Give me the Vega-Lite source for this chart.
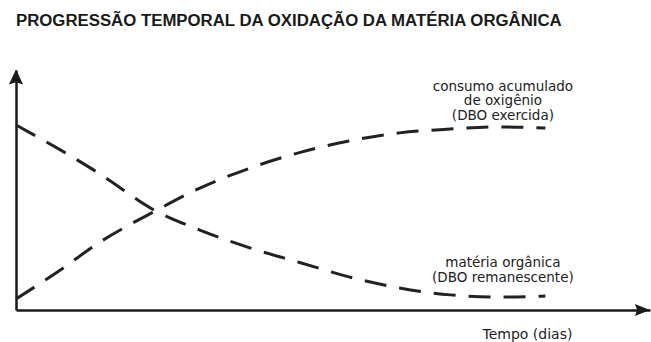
{
  "$schema": "https://vega.github.io/schema/vega-lite/v6.json",
  "autosize": "none",
  "width": 634,
  "height": 240,
  "padding": {"left": 16, "top": 70, "right": 1, "bottom": 32},
  "background": "#ffffff",
  "title": {
    "text": "PROGRESSÃO TEMPORAL DA OXIDAÇÃO DA MATÉRIA ORGÂNICA",
    "anchor": "start",
    "frame": "group",
    "font": "Liberation Sans",
    "fontSize": 16.8,
    "fontWeight": "bold",
    "color": "#1a1a1a",
    "baseline": "bottom",
    "offset": 23
  },
  "config": {"view": {"stroke": null}},
  "datasets": {
    "curves": [
      {"serie": "consumo", "t": 0, "v": 4.6},
      {"serie": "consumo", "t": 1.4, "v": 16.7},
      {"serie": "consumo", "t": 2.6, "v": 27.9},
      {"serie": "consumo", "t": 4.4, "v": 41.3},
      {"serie": "consumo", "t": 5.8, "v": 50.8},
      {"serie": "consumo", "t": 7.4, "v": 59.2},
      {"serie": "consumo", "t": 9.0, "v": 65.8},
      {"serie": "consumo", "t": 10.5, "v": 70.4},
      {"serie": "consumo", "t": 12.1, "v": 73.8},
      {"serie": "consumo", "t": 13.7, "v": 75.4},
      {"serie": "consumo", "t": 15.3, "v": 76.3},
      {"serie": "consumo", "t": 16.7, "v": 75.8},
      {"serie": "materia", "t": 0, "v": 77.1},
      {"serie": "materia", "t": 1.4, "v": 66.7},
      {"serie": "materia", "t": 2.6, "v": 57.1},
      {"serie": "materia", "t": 4.4, "v": 41.3},
      {"serie": "materia", "t": 5.8, "v": 33.3},
      {"serie": "materia", "t": 7.4, "v": 25.8},
      {"serie": "materia", "t": 9.0, "v": 19.6},
      {"serie": "materia", "t": 10.5, "v": 13.8},
      {"serie": "materia", "t": 12.1, "v": 9.2},
      {"serie": "materia", "t": 13.7, "v": 6.3},
      {"serie": "materia", "t": 15.3, "v": 5.4},
      {"serie": "materia", "t": 16.7, "v": 5.8}
    ],
    "labels": [
      {"t": 15.36, "v": 92.9, "label": "consumo acumulado"},
      {"t": 15.36, "v": 86.9, "label": "de oxigênio"},
      {"t": 15.36, "v": 80.8, "label": "(DBO exercida)"},
      {"t": 15.36, "v": 19.6, "label": "matéria orgânica"},
      {"t": 15.36, "v": 13.3, "label": "(DBO remanescente)"}
    ]
  },
  "layer": [
    {
      "data": {"name": "curves"},
      "mark": {"type": "line", "interpolate": "monotone", "strokeWidth": 3, "strokeDash": [22, 13], "strokeCap": "butt", "color": "#222222"},
      "encoding": {
        "x": {"field": "t", "type": "quantitative", "scale": {"domain": [0, 20], "nice": false, "zero": false},
          "axis": {"title": "Tempo (dias)", "labels": false, "ticks": false, "grid": false, "domainColor": "#1a1a1a", "domainWidth": 2.5,
            "titleFont": "DejaVu Sans", "titleFontSize": 14, "titleFontWeight": "normal", "titleColor": "#222222",
            "titleX": 511, "titleY": 24, "titleAlign": "center", "titleBaseline": "middle", "titleAnchor": null}},
        "y": {"field": "v", "type": "quantitative", "scale": {"domain": [0, 100], "nice": false},
          "axis": {"title": null, "labels": false, "ticks": false, "grid": false, "domainColor": "#1a1a1a", "domainWidth": 2.5}},
        "detail": {"field": "serie"}
      }
    },
    {
      "data": {"name": "labels"},
      "mark": {"type": "text", "font": "DejaVu Sans", "fontSize": 13.5, "color": "#222222", "align": "center", "baseline": "middle"},
      "encoding": {
        "x": {"field": "t", "type": "quantitative"},
        "y": {"field": "v", "type": "quantitative"},
        "text": {"field": "label"}
      }
    },
    {
      "data": {"values": [{"eixo": "y"}]},
      "mark": {"type": "point", "shape": "M0,-1L0.95,1L0,0.7L-0.95,1Z", "filled": true, "size": 225, "color": "#1a1a1a", "opacity": 1},
      "encoding": {
        "x": {"datum": 0, "type": "quantitative"},
        "y": {"datum": 97.1, "type": "quantitative"}
      }
    },
    {
      "data": {"values": [{"eixo": "x"}]},
      "mark": {"type": "point", "shape": "M1,0L-1,0.8L-0.7,0L-1,-0.8Z", "filled": true, "size": 225, "color": "#1a1a1a", "opacity": 1},
      "encoding": {
        "x": {"datum": 19.76, "type": "quantitative"},
        "y": {"datum": 0, "type": "quantitative"}
      }
    }
  ]
}
